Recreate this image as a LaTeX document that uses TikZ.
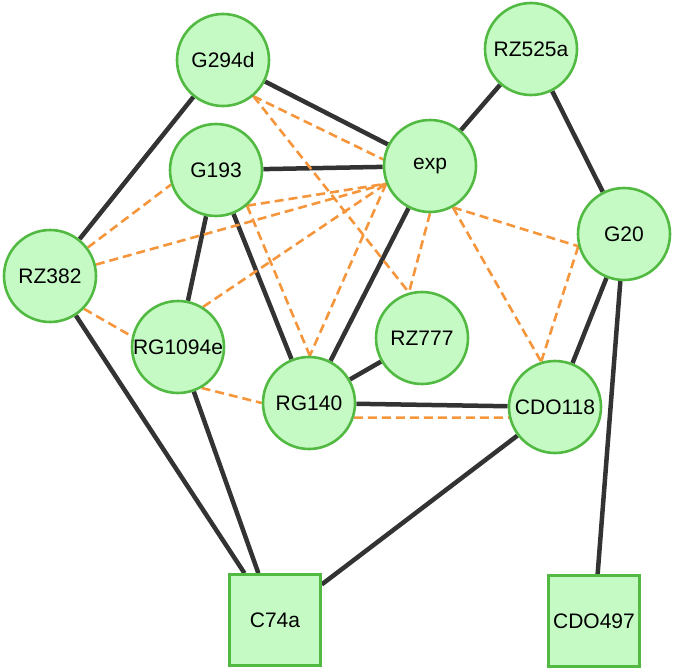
\documentclass[tikz,border=0pt]{standalone}
\usepackage{fontspec}
\setmainfont{Liberation Sans}
\usetikzlibrary{backgrounds}
\definecolor{nodefill}{RGB}{198,250,196}
\definecolor{nodeline}{RGB}{82,186,66}
\definecolor{edgedark}{RGB}{51,51,51}
\definecolor{dashorange}{RGB}{245,150,60}
\tikzset{
  gnode/.style={circle, fill=nodefill, draw=nodeline, line width=2.6pt, minimum size=92pt, inner sep=0pt, font=\fontsize{21}{24}\selectfont},
  snode/.style={rectangle, fill=nodefill, draw=nodeline, line width=2.6pt, minimum size=91pt, inner sep=0pt, font=\fontsize{21}{24}\selectfont},
  solidedge/.style={draw=edgedark, line width=4.5pt},
  dashedge/.style={draw=dashorange, line width=2.6pt, dash pattern=on 9pt off 5pt}
}
\begin{document}
\begin{tikzpicture}[x=1pt, y=-1pt]
\useasboundingbox (0,0) rectangle (675,672);
\node[gnode] (G294d) at (223,60) {G294d};
\node[gnode] (RZ525a) at (531,49) {RZ525a};
\node[gnode] (exp) at (430,166) {exp};
\node[gnode] (G193) at (216,170) {G193};
\node[gnode] (G20) at (624,234) {G20};
\node[gnode] (RZ382) at (50,276) {RZ382};
\node[gnode] (RG1094e) at (178,347) {RG1094e};
\node[gnode] (RZ777) at (422,338) {RZ777};
\node[gnode] (RG140) at (309,403) {RG140};
\node[gnode] (CDO118) at (555,407) {CDO118};
\node[snode] (C74a) at (275,620) {C74a};
\node[snode] (CDO497) at (594,621) {CDO497};
\begin{pgfonlayer}{background}
% solid edges
\draw[solidedge] (G294d) -- (RZ382);
\draw[solidedge] (G294d) -- (exp);
\draw[solidedge] (G193) -- (exp);
\draw[solidedge] (G193) -- (RG1094e);
\draw[solidedge] (G193) -- (RG140);
\draw[solidedge] (exp) -- (RZ525a);
\draw[solidedge] (exp) -- (RG140);
\draw[solidedge] (RZ525a) -- (G20);
\draw[solidedge] (G20) -- (CDO118);
\draw[solidedge] (G20) -- (CDO497);
\draw[solidedge] (RZ382) -- (C74a);
\draw[solidedge] (RG1094e) -- (C74a);
\draw[solidedge] (RG140) -- (RZ777);
\draw[solidedge] (RG140) -- (CDO118);
\draw[solidedge] (CDO118) -- (C74a);
% dashed edges
\draw[dashedge] (G294d.310) -- (exp.172);
\draw[dashedge] (G294d.310) -- (RZ777.106);
\draw[dashedge] (G193.311) -- (exp.202);
\draw[dashedge] (G193.311) -- (RG140.89);
\draw[dashedge] (RZ382.37) -- (G193.198);
\draw[dashedge] (RZ382.14) -- (exp.202);
\draw[dashedge] (RZ382.316) -- (RG1094e.167);
\draw[dashedge] (RG1094e.58) -- (exp.202);
\draw[dashedge] (RG1094e.300) -- (RG140.180);
\draw[dashedge] (exp.202) -- (RG140.89);
\draw[dashedge] (exp.270) -- (RZ777.106);
\draw[dashedge] (exp.299) -- (CDO118.107);
\draw[dashedge] (exp.299) -- (G20.195);
\draw[dashedge] (G20.195) -- (CDO118.107);
\draw[dashedge] (RG140.342) -- (CDO118.193);
\end{pgfonlayer}
\end{tikzpicture}
\end{document}
